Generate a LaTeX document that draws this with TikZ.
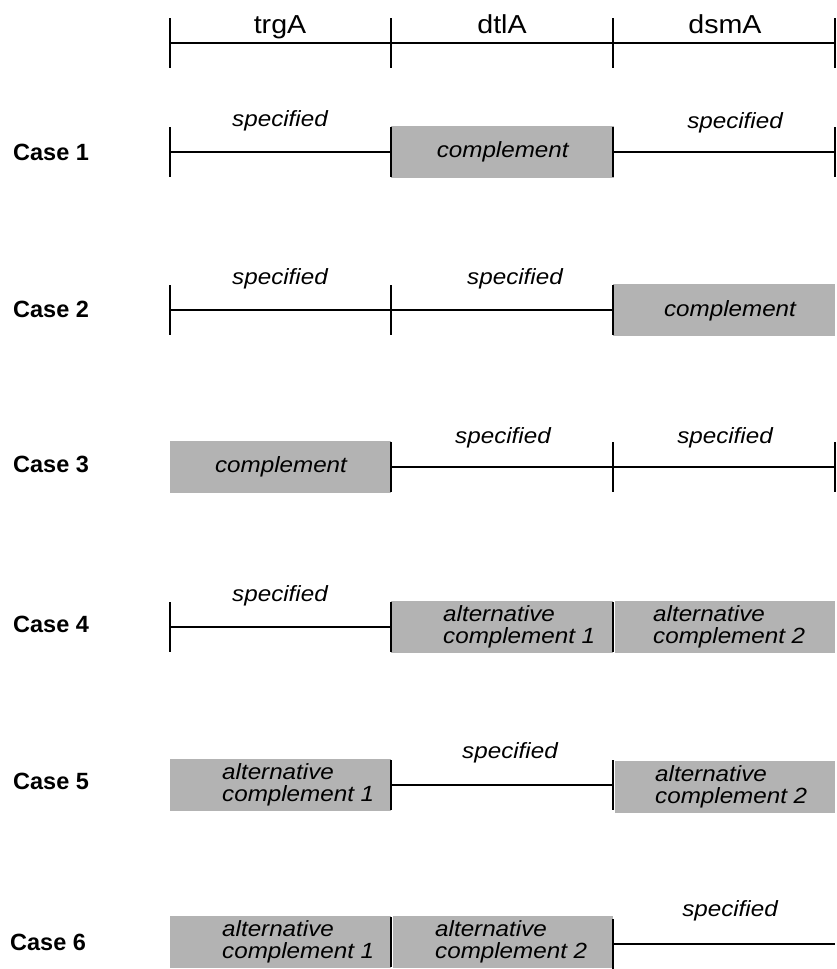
\documentclass[tikz,border=0pt]{standalone}
\usepackage{fontspec}
\setmainfont{Liberation Sans}
\newfontfamily\widefont[FakeStretch=1.1]{Liberation Sans}
\usetikzlibrary{calc}
\definecolor{boxgray}{RGB}{179,179,179}
\tikzset{
  seg/.style={line width=2pt},
  tickmark/.style={line width=2pt},
  cbox/.style={fill=boxgray, draw=none, minimum height=52pt, inner sep=0pt, anchor=west},
  hdr/.style={font=\widefont\fontsize{26}{28}\selectfont, anchor=base, inner sep=0pt},
  spec/.style={font=\widefont\itshape\fontsize{22}{24}\selectfont, anchor=base, inner sep=0pt},
  ctext/.style={font=\widefont\itshape\fontsize{22}{24}\selectfont, inner sep=0pt},
  alttext/.style={font=\widefont\itshape\fontsize{22}{22}\selectfont, align=left, anchor=west, inner sep=0pt},
  caselbl/.style={font=\bfseries\fontsize{23.5}{25}\selectfont, anchor=west, inner sep=0pt},
}
\newcommand{\ticksat}[1]{\foreach \p in {#1} \draw[tickmark] ($(\p)+(0,-25)$) -- ($(\p)+(0,25)$);}
\begin{document}
\begin{tikzpicture}[x=1pt,y=-1pt]
\useasboundingbox (0,0) rectangle (837,969);

% ---- header scale ----
\coordinate (h0) at (170,43);
\coordinate (h1) at (391,43);
\coordinate (h2) at (613,43);
\coordinate (h3) at (835,43);
\draw[seg] (h0) -- (h3);
\ticksat{h0,h1,h2,h3}
\node[hdr] (trg) at (280,33) {trgA};
\node[hdr] (dtl) at (502,33) {dtlA};
\node[hdr] (dsm) at (725,33) {dsmA};

% ---- Case 1 ----
\node[caselbl] (lab1) at (13,152) {Case 1};
\coordinate (a0) at (170,152);
\coordinate (a1) at (391,152);
\coordinate (a2) at (613,152);
\coordinate (a3) at (835,152);
\node[cbox, minimum width=223pt] (b1) at (a1) {};
\node[ctext] (t1) at (b1.center) {complement};
\draw[seg] (a0) -- (a1);
\draw[seg] (a2) -- (a3);
\ticksat{a0,a1,a2,a3}
\node[spec] (s1a) at (280,126) {specified};
\node[spec] (s1b) at (735,128) {specified};

% ---- Case 2 ----
\node[caselbl] (lab2) at (13,309) {Case 2};
\coordinate (c0) at (170,310);
\coordinate (c1) at (391,310);
\coordinate (c2) at (613,310);
\node[cbox, minimum width=222pt] (b2) at (c2) {};
\node[ctext] (t2) at (730,311) {complement};
\draw[seg] (c0) -- (c2);
\ticksat{c0,c1,c2}
\node[spec] (s2a) at (280,284) {specified};
\node[spec] (s2b) at (515,284) {specified};

% ---- Case 3 ----
\node[caselbl] (lab3) at (13,464) {Case 3};
\coordinate (d0) at (170,467);
\coordinate (d1) at (391,467);
\coordinate (d2) at (613,467);
\coordinate (d3) at (835,467);
\node[cbox, minimum width=221pt] (b3) at (d0) {};
\node[ctext] (t3) at (281,467) {complement};
\draw[seg] (d1) -- (d3);
\ticksat{d1,d2,d3}
\node[spec] (s3a) at (503,443) {specified};
\node[spec] (s3b) at (725,443) {specified};

% ---- Case 4 ----
\node[caselbl] (lab4) at (13,624) {Case 4};
\coordinate (e0) at (170,627);
\coordinate (e1) at (391,627);
\coordinate (e2) at (613,627);
\node[cbox, minimum width=222pt] (b4a) at (e1) {};
\node[cbox, minimum width=220pt] (b4b) at (615,627) {};
\node[alttext] (t4a) at (443,627) {alternative\\complement 1};
\node[alttext] (t4b) at (653,627) {alternative\\complement 2};
\draw[seg] (e0) -- (e1);
\ticksat{e0,e1,e2}
\node[spec] (s4) at (280,601) {specified};

% ---- Case 5 ----
\node[caselbl] (lab5) at (13,781) {Case 5};
\coordinate (f1) at (391,785);
\coordinate (f2) at (613,785);
\node[cbox, minimum width=221pt] (b5a) at (170,785) {};
\node[cbox, minimum width=220pt] (b5b) at (615,787) {};
\node[alttext] (t5a) at (222,785) {alternative\\complement 1};
\node[alttext] (t5b) at (655,787) {alternative\\complement 2};
\draw[seg] (f1) -- (f2);
\ticksat{f1,f2}
\node[spec] (s5) at (510,758) {specified};

% ---- Case 6 ----
\node[caselbl] (lab6) at (10,942) {Case 6};
\coordinate (g1) at (391,942);
\coordinate (g2) at (613,944);
\coordinate (g3) at (835,944);
\node[cbox, minimum width=221pt] (b6a) at (170,942) {};
\node[cbox, minimum width=220pt] (b6b) at (393,942) {};
\node[alttext] (t6a) at (222,942) {alternative\\complement 1};
\node[alttext] (t6b) at (435,942) {alternative\\complement 2};
\draw[seg] (g2) -- (g3);
\ticksat{g1,g2}
\node[spec] (s6) at (730,916) {specified};
\end{tikzpicture}
\end{document}
